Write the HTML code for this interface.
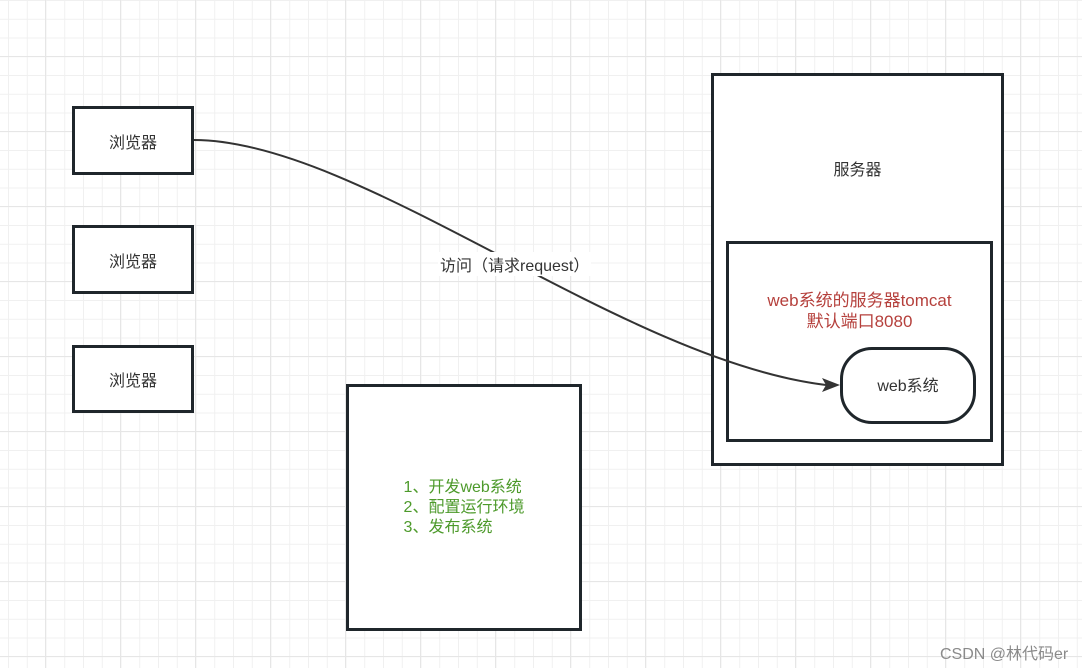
<!DOCTYPE html>
<html><head><meta charset="utf-8"><style>
body{margin:0;width:1082px;height:668px;overflow:hidden;background:#fff;position:relative;font-family:"Liberation Sans","Noto Sans CJK SC",sans-serif;}
.grid{position:absolute;left:0;top:0;width:1082px;height:668px;
background-image:
linear-gradient(to right,#e6e6e6 1px,transparent 1px),
linear-gradient(to bottom,#e6e6e6 1px,transparent 1px),
linear-gradient(to right,#f0f0f0 1px,transparent 1px),
linear-gradient(to bottom,#f0f0f0 1px,transparent 1px);
background-size:75px 75px,75px 75px,18.75px 18.75px,18.75px 18.75px;
background-position:45px 56px,45px 56px,8px 0px,8px 0px;}
.b{position:absolute;border:3px solid #1f262b;background:#fff;box-sizing:border-box;display:flex;align-items:center;justify-content:center;font-size:16px;color:#333;text-align:center}
</style></head><body>
<div class="grid"></div>
<div class="b" style="left:72px;top:106px;width:122px;height:69px">浏览器</div>
<div class="b" style="left:72px;top:225px;width:122px;height:69px">浏览器</div>
<div class="b" style="left:72px;top:345px;width:122px;height:68px">浏览器</div>
<div class="b" style="left:346px;top:384px;width:236px;height:247px;color:#4d9a2b;text-align:left;font-size:16px;line-height:20px">1、开发web系统<br>2、配置运行环境<br>3、发布系统</div>
<div class="b" style="left:711px;top:73px;width:293px;height:393px;align-items:flex-start;padding-top:80px">服务器</div>
<div class="b" style="left:726px;top:241px;width:267px;height:201px;align-items:flex-start;padding-top:46px;color:#b5403c;font-size:17px;line-height:21px">web系统的服务器tomcat<br>默认端口8080</div>
<div class="b" style="left:840px;top:347px;width:136px;height:77px;border-radius:32px;font-size:16px;padding-bottom:3px">web系统</div>
<svg width="1082" height="668" style="position:absolute;left:0;top:0">
<path d="M194,140 C360,140 620,360 826,385" fill="none" stroke="#333" stroke-width="2"/>
<polygon points="840,385 822,378 826,385 822,392" fill="#333"/>
</svg>
<div style="position:absolute;left:438px;top:252px;background:#fff;font-size:16px;color:#333;padding:0 2px">访问（请求request）</div>
<div style="position:absolute;left:940px;top:640px;font-size:16px;color:#8a8a8a">CSDN @林代码er</div>
</body></html>
